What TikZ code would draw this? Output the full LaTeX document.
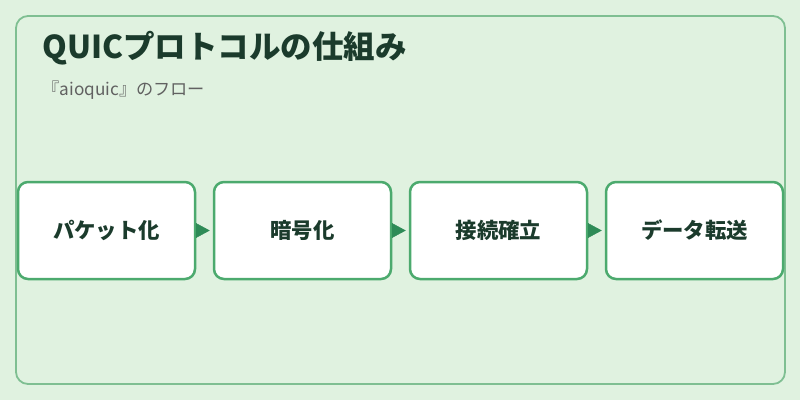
\documentclass[tikz,border=0pt]{standalone}
\usepackage{fontspec}
\setmainfont{Noto Sans CJK JP}
\usepackage{tikz}
\usetikzlibrary{arrows.meta}
\definecolor{bgmint}{HTML}{E0F2E0}
\definecolor{framegreen}{HTML}{7FBF92}
\definecolor{boxgreen}{HTML}{4CAA6E}
\definecolor{tipgreen}{HTML}{2E8B57}
\definecolor{inkdark}{HTML}{1B3B2C}

\begin{document}
\begin{tikzpicture}[x=1pt, y=-1pt,
		stagebox/.style={draw=boxgreen, line width=2.5pt, fill=white, rounded corners=10pt,
			minimum width=177pt, minimum height=97pt, inner sep=0pt,
			font=\fontsize{21.4}{25}\selectfont\bfseries, text=inkdark},
		flowtip/.style={-{Triangle[length=14pt,width=15pt]}, tipgreen, line width=0.5pt, shorten >=3pt}]
		%%%%% START %%%%%
		
		\useasboundingbox[fill=bgmint] (0, 0) rectangle (800, 400);
		\draw[line width=1.8pt, color=framegreen, rounded corners=12pt] (16, 16) rectangle (785, 384);
		
		\node[anchor=base west, text=inkdark, font=\fontsize{31.5}{36}\selectfont\bfseries] (title) at (39, 58) {QUICプロトコルの仕組み};
		\node[anchor=base west, text=black!62, font=\fontsize{17.2}{20}\selectfont] (subtitle) at (39, 95) {『aioquic』のフロー};
		
		\node[stagebox] (packet) at (106.5, 230.5) {パケット化};
		\node[stagebox] (crypt) at (302.5, 230.5) {暗号化};
		\node[stagebox] (handshake) at (498.5, 230.5) {接続確立};
		\node[stagebox] (transfer) at (694.5, 230.5) {データ転送};
		
		\draw[flowtip] (packet.east) -- (crypt.west);
		\draw[flowtip] (crypt.east) -- (handshake.west);
		\draw[flowtip] (handshake.east) -- (transfer.west);
		
		%%%%% END %%%%%
	\end{tikzpicture}
\end{document}
